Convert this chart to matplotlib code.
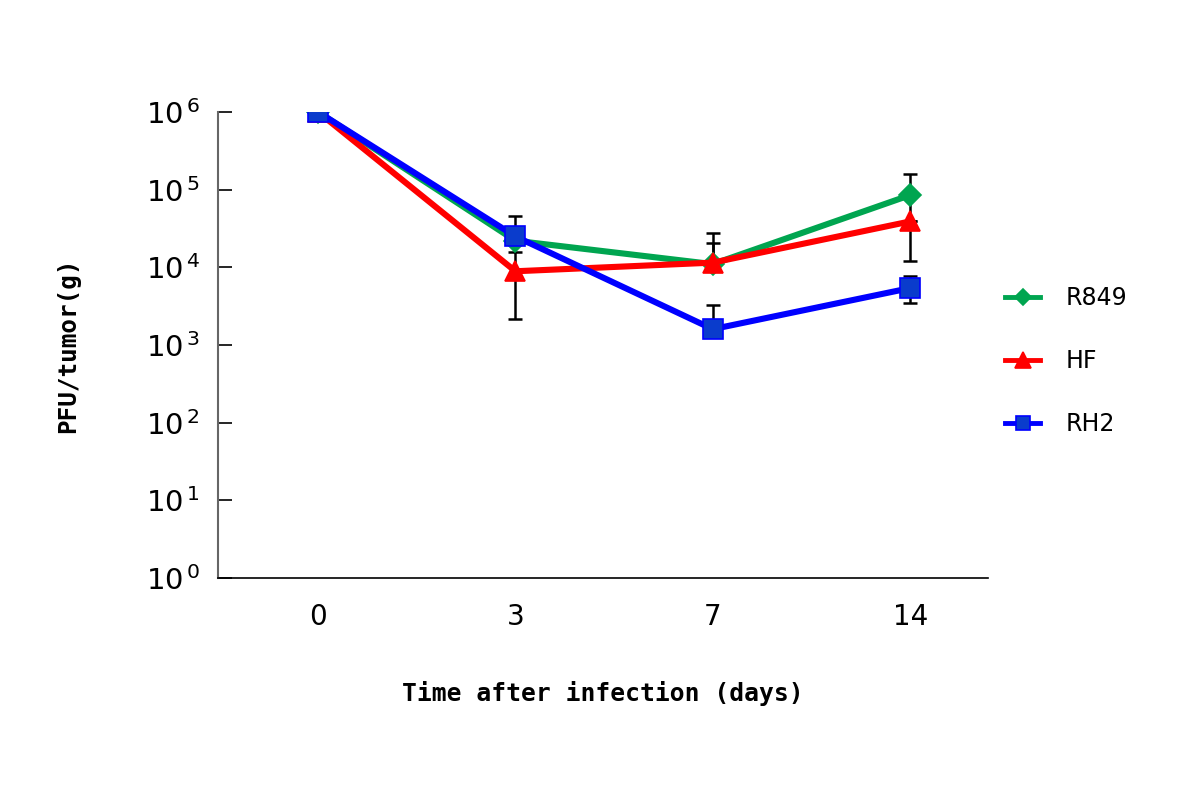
import matplotlib
matplotlib.use("Agg")
import matplotlib.pyplot as plt
import numpy as np

days = ["0", "3", "7", "14"]
series_names = ["R849", "HF", "RH2"]
r849 = [1.0e6, 2.2e4, 1.1e4, 8.5e4]
r849_lo = [1.0e6, 2.2e4, 1.1e4, 1.2e4]
r849_hi = [1.0e6, 2.2e4, 2.05e4, 1.58e5]
hf = [1.0e6, 8.9e3, 1.15e4, 3.9e4]
hf_lo = [1.0e6, 2.15e3, 1.15e4, 3.9e4]
hf_hi = [1.0e6, 1.57e4, 2.75e4, 3.9e4]
rh2 = [1.0e6, 2.5e4, 1.6e3, 5.4e3]
rh2_lo = [1.0e6, 2.5e4, 1.6e3, 3.45e3]
rh2_hi = [1.0e6, 4.6e4, 3.25e3, 7.7e3]
ytick_vals = [1, 10, 100, 1e3, 1e4, 1e5, 1e6]
ytick_labels = [r"$\mathregular{10^{\,%d}}$" % e for e in range(7)]

plt.rcParams['font.family'] = ['DejaVu Sans']
plt.rcParams['mathtext.default'] = 'regular'
fig = plt.figure(figsize=(12, 8), dpi=100)
ax = fig.add_axes([0.1817, 0.2775, 0.6417, 0.5825])

x = np.arange(len(days))
specs = [
    (r849, r849_lo, r849_hi, "#00a550", "#00a550", "D", 11, "R849"),
    (hf, hf_lo, hf_hi, "#ff0000", "#ff0000", "^", 15, "HF"),
    (rh2, rh2_lo, rh2_hi, "#0000ff", "#0a3ccc", "s", 14, "RH2"),
]
for vals, lo, hi, lc, fc, mk, ms, name in specs:
    v = np.array(vals); l = np.array(lo); h = np.array(hi)
    ax.errorbar(x, v, yerr=[v - l, h - v], fmt="none", ecolor="black",
                elinewidth=1.8, capsize=5, capthick=1.8, zorder=2)
for vals, lo, hi, lc, fc, mk, ms, name in specs:
    ax.plot(x, vals, color=lc, lw=4.4, marker=mk, markersize=ms,
            markerfacecolor=fc, markeredgecolor=lc, markeredgewidth=1.2,
            label=name, zorder=3)

ax.set_yscale("log")
ax.set_ylim(1, 1e6)
ax.set_xlim(-0.507, 3.395)
ax.set_yticks(ytick_vals)
ax.set_yticklabels(ytick_labels)
ax.yaxis.set_minor_locator(matplotlib.ticker.NullLocator())
ax.set_xticks(x)
ax.set_xticklabels(days)
ax.tick_params(axis="y", direction="in", length=10, width=1.2, pad=13,
               labelsize=21, color="black")
ax.tick_params(axis="x", length=0, pad=18, labelsize=20)
for s in ["top", "right"]:
    ax.spines[s].set_visible(False)
ax.spines["left"].set_color("#666666")
ax.spines["left"].set_linewidth(1.5)
ax.spines["bottom"].set_color("black")
ax.spines["bottom"].set_linewidth(1.2)

ax.set_xlabel("Time after infection (days)", family="DejaVu Sans Mono",
              fontweight="bold", fontsize=17.7, labelpad=36)
ax.set_ylabel("PFU/tumor(g)", family="DejaVu Sans Mono", fontweight="bold",
              fontsize=17.5, labelpad=47)

leg = ax.legend(loc="center left", bbox_to_anchor=(0.995, 0.466), frameon=False,
                fontsize=17, handlelength=1.45, handletextpad=1.1,
                labelspacing=1.65, markerscale=0.75)
for h in leg.get_lines():
    h.set_linewidth(3.5)

fig.savefig("out.png", dpi=100)
